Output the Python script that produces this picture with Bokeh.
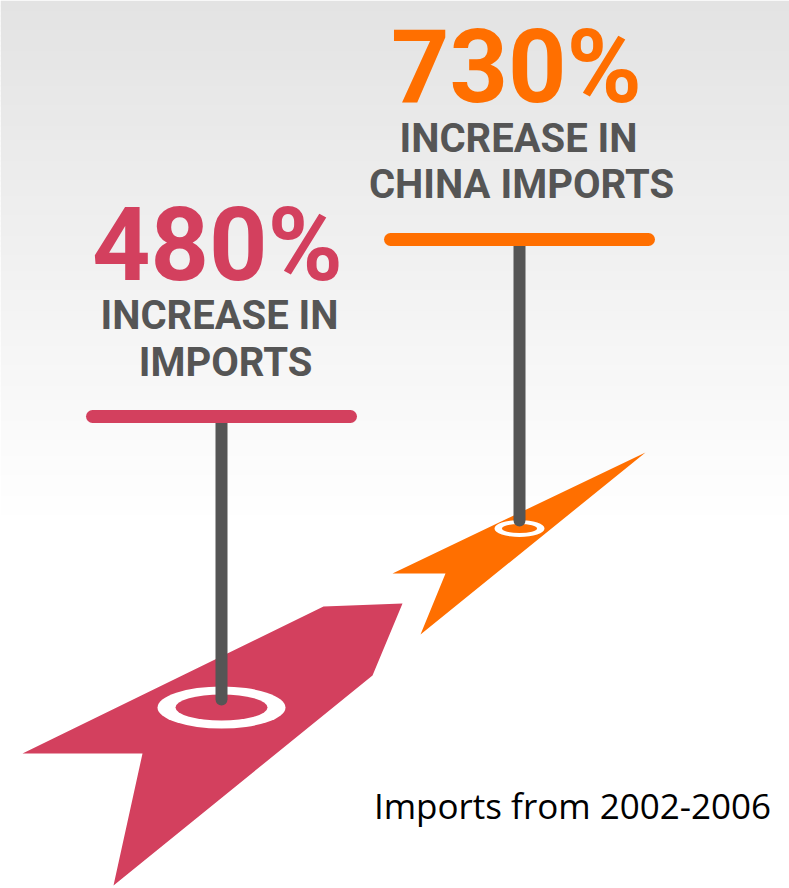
from bokeh.plotting import figure
from bokeh.models import Range1d
from bokeh.core.properties import value
from bokeh.embed import file_html
from bokeh.resources import INLINE

# ---------------- data ----------------
categories = ["Imports", "China imports"]
increase_pct = [480, 730]
label_line1 = ["INCREASE IN", "INCREASE IN"]
label_line2 = ["IMPORTS", "CHINA IMPORTS"]
caption = "Imports from 2002-2006"

# ---------------- style / layout ----------------
colors = ["#D3405E", "#FF6F00"]
gray = "#555555"
W, H = 789, 888

pin_x = [221, 519]
bar_y = [416, 239]
bar_half = [129, 129]
ring_y = [707, 528]
ring_outer = [(128, 42), (50, 17)]
ring_inner = [(92, 26), (35, 9)]
num_y = [244, 66]
l1_y = [315, 138]
l2_y = [362, 184]
num_cx = [217, 516]
l1_cx = [219, 518]
l2_cx = [225, 521]

arrow_xs = [[22, 142, 113, 372, 402, 323], [392, 445, 420, 645]]
arrow_ys = [[753, 753, 885, 675, 603, 606], [573, 573, 634, 452]]

big_font = "Roboto"

p = figure(width=W, height=H, x_range=Range1d(0, W), y_range=Range1d(H, 0),
           output_backend="svg", toolbar_location=None, min_border=0)
p.axis.visible = False
p.grid.visible = False
p.outline_line_color = None
p.background_fill_color = "white"
p.border_fill_color = "white"

# background gradient (light grey at top fading to white)
n = 104
step = 5
tops, bots, cols = [], [], []
for i in range(n):
    y0 = i * step
    t = min(1.0, y0 / 520.0)
    v = int(round(227 + (255 - 227) * t))
    tops.append(y0)
    bots.append(y0 + step + 1)
    cols.append("#%02x%02x%02x" % (v, v, v))
p.quad(left=0, right=W, top=tops, bottom=bots, fill_color=cols, line_color=None)

# arrows
p.patches(xs=arrow_xs, ys=arrow_ys, fill_color=colors, line_color=None)

# rings
p.ellipse(x=pin_x, y=ring_y, width=[r[0] for r in ring_outer], height=[r[1] for r in ring_outer],
          fill_color="white", line_color=None)
p.ellipse(x=pin_x, y=ring_y, width=[r[0] for r in ring_inner], height=[r[1] for r in ring_inner],
          fill_color=colors, line_color=None)

# poles
p.segment(x0=pin_x, y0=bar_y, x1=pin_x, y1=[ry - 8 for ry in ring_y],
          line_color=gray, line_width=12, line_cap="round")

# bars
p.segment(x0=[x - h for x, h in zip(pin_x, bar_half)], y0=bar_y,
          x1=[x + h for x, h in zip(pin_x, bar_half)], y1=bar_y,
          line_color=colors, line_width=13, line_cap="round")

# texts
p.text(x=num_cx, y=num_y, text=[f"{v}%" for v in increase_pct],
       text_color=colors, text_font=value(big_font), text_font_size="102px",
       text_font_style="bold", text_align="center", text_baseline="alphabetic")
p.text(x=l1_cx, y=l1_y, text=label_line1,
       text_color=gray, text_font=value(big_font), text_font_size="40px",
       text_font_style="bold", text_align="center", text_baseline="alphabetic")
p.text(x=l2_cx, y=l2_y, text=label_line2,
       text_color=gray, text_font=value(big_font), text_font_size="40px",
       text_font_style="bold", text_align="center", text_baseline="alphabetic")

p.text(x=[572], y=[805], text=[caption], text_color="black",
       text_font=value("Open Sans"), text_font_size="35px",
       text_align="center", text_baseline="alphabetic")

open("out.html", "w").write(file_html(p, INLINE))
